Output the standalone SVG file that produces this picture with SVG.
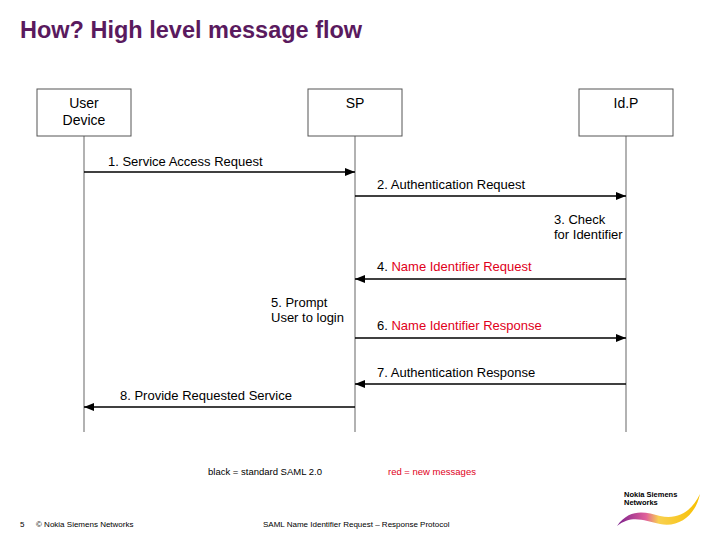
<svg xmlns="http://www.w3.org/2000/svg" width="720" height="540" viewBox="0 0 720 540">
<style>
text{font-family:"Liberation Sans",Arial,sans-serif}
.box{fill:#fff;stroke:#555;stroke-width:1}
.life{stroke:#999;stroke-width:1.5}
.msg{stroke:#000;stroke-width:1.3;fill:none;marker-end:url(#ah)}
.l{font-size:13px;fill:#000}
.r{fill:#e0001a}
.n{font-size:14px;text-anchor:middle}
.f{font-size:8px;fill:#000}
</style>
<defs><marker id="ah" markerWidth="10" markerHeight="8" refX="10" refY="4" orient="auto" markerUnits="userSpaceOnUse"><path d="M0,0L10,4L0,8z" fill="#000"/></marker>
<linearGradient id="sw" x1="0" x2="1"><stop offset="0" stop-color="#7a1e8c"/><stop offset="0.35" stop-color="#e0609a"/><stop offset="0.5" stop-color="#f8d050"/><stop offset="1" stop-color="#f8c000"/></linearGradient></defs>
<rect width="720" height="540" fill="#fff"/>
<text x="20" y="38" font-size="23.5" font-weight="bold" fill="#5a1a5e">How? High level message flow</text>
<g id="lifelines"><line class="life" x1="84" y1="136" x2="84" y2="432"/><line class="life" x1="355" y1="136" x2="355" y2="432"/><line class="life" x1="626" y1="136" x2="626" y2="432"/></g>
<g id="ud"><rect class="box" x="37" y="89" width="94" height="47"/><text class="n" x="84" y="108">User</text><text class="n" x="84" y="125">Device</text></g>
<g id="sp"><rect class="box" x="308" y="89" width="94" height="47"/><text class="n" x="355" y="108">SP</text></g>
<g id="idp"><rect class="box" x="579" y="89" width="94" height="47"/><text class="n" x="626" y="108">Id.P</text></g>
<g id="connectors">
<line class="msg" x1="84" y1="172" x2="355" y2="172"/>
<line class="msg" x1="355" y1="196" x2="626" y2="196"/>
<line class="msg" x1="626" y1="279" x2="355" y2="279"/>
<line class="msg" x1="355" y1="338" x2="626" y2="338"/>
<line class="msg" x1="626" y1="384" x2="355" y2="384"/>
<line class="msg" x1="355" y1="407" x2="84" y2="407"/>
</g>
<g id="labels">
<text class="l" x="108" y="166">1. Service Access Request</text>
<text class="l" x="377" y="189">2. Authentication Request</text>
<text class="l" x="554" y="224">3. Check</text>
<text class="l" x="554" y="239">for Identifier</text>
<text class="l" x="377" y="271">4. <tspan class="r">Name Identifier Request</tspan></text>
<text class="l" x="271" y="307">5. Prompt</text>
<text class="l" x="271" y="322">User to login</text>
<text class="l" x="377" y="330">6. <tspan class="r">Name Identifier Response</tspan></text>
<text class="l" x="377" y="377">7. Authentication Response</text>
<text class="l" x="120" y="400">8. Provide Requested Service</text>
</g>
<text x="208" y="475" font-size="9.5">black = standard SAML 2.0</text>
<text x="388" y="475" font-size="9.5" fill="#e0001a">red = new messages</text>
<text class="f" x="20" y="527">5</text>
<text class="f" x="36" y="527">© Nokia Siemens Networks</text>
<text class="f" x="263" y="527">SAML Name Identifier Request – Response Protocol</text>
<g id="logo"><text x="624" y="497" font-size="7.5" font-weight="bold">Nokia Siemens</text><text x="624" y="505" font-size="7.5" font-weight="bold">Networks</text>
<path d="M617,526 C630,508 645,512 660,516 C680,520 692,510 700,494 C696,514 680,528 660,524 C645,521 632,514 617,526z" fill="url(#sw)"/></g>
</svg>
